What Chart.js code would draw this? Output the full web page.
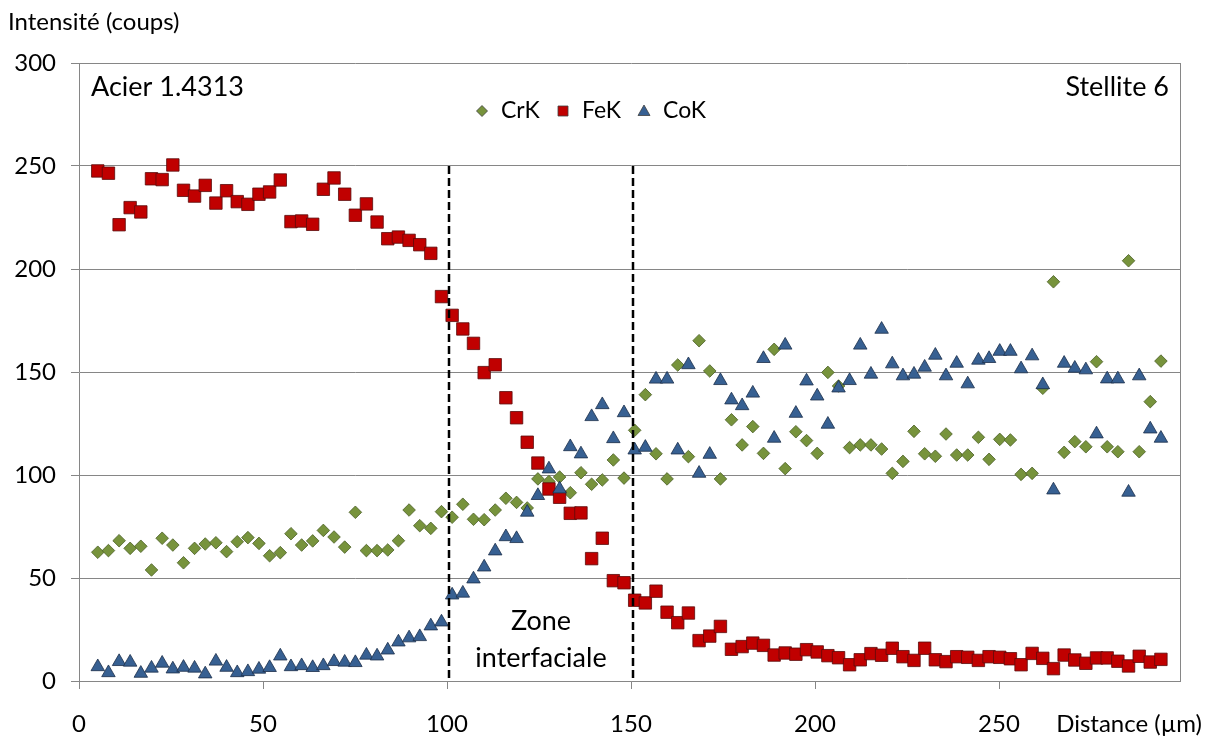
<!DOCTYPE html>
<html>
<head>
<meta charset="utf-8">
<script src="https://cdn.jsdelivr.net/npm/chart.js@4/dist/chart.umd.min.js"></script>
<style>
  html, body { margin: 0; padding: 0; background: #fff; }
  #profil { display: block; }
</style>
</head>
<body>
<canvas id="profil" width="1215" height="738"></canvas>
<script>
// distance (µm) of each measurement point
var distance = [
  5.1, 8.0, 10.9, 13.9, 16.8, 19.7, 22.6, 25.5, 28.4, 31.4,
  34.3, 37.2, 40.1, 43.0, 45.9, 48.9, 51.8, 54.7, 57.6, 60.5,
  63.5, 66.4, 69.3, 72.2, 75.1, 78.1, 81.0, 83.9, 86.8, 89.7,
  92.6, 95.6, 98.5, 101.4, 104.3, 107.2, 110.1, 113.1, 116.0, 118.9,
  121.8, 124.7, 127.7, 130.6, 133.5, 136.4, 139.3, 142.2, 145.2, 148.1,
  151.0, 153.9, 156.8, 159.8, 162.7, 165.6, 168.5, 171.4, 174.3, 177.3,
  180.2, 183.1, 186.0, 188.9, 191.9, 194.8, 197.7, 200.6, 203.5, 206.4,
  209.4, 212.3, 215.2, 218.1, 221.0, 223.9, 226.9, 229.8, 232.7, 235.6,
  238.5, 241.5, 244.4, 247.3, 250.2, 253.1, 256.0, 259.0, 261.9, 264.8,
  267.7, 270.6, 273.6, 276.5, 279.4, 282.3, 285.2, 288.1, 291.1, 294.0
];

var crK = [
  62.5, 63.3, 68.1, 64.4, 65.4, 53.9, 69.3, 66.0, 57.4, 64.4,
  66.5, 67.1, 62.8, 67.6, 69.6, 66.8, 60.8, 62.3, 71.5, 66.0,
  68.0, 73.1, 69.9, 65.0, 81.9, 63.3, 63.3, 63.6, 68.1, 83.0,
  75.4, 74.1, 82.2, 79.5, 85.8, 78.5, 78.3, 83.0, 88.7, 86.7,
  84.0, 98.1, 96.8, 99.0, 91.4, 101.1, 95.5, 97.6, 107.3, 98.5,
  121.7, 139.0, 110.3, 98.1, 153.4, 108.9, 165.2, 150.5, 98.1, 126.8,
  114.6, 123.5, 110.5, 161.0, 103.1, 121.0, 116.7, 110.5, 149.8, 143.2,
  113.3, 114.6, 114.6, 112.6, 100.8, 106.6, 121.2, 110.3, 109.1, 119.9,
  109.7, 109.7, 118.3, 107.6, 117.3, 117.0, 100.3, 100.8, 142.1, 193.8,
  111.0, 116.2, 113.7, 155.0, 113.7, 111.3, 204.0, 111.3, 135.6, 155.3
];

var feK = [
  247.6, 246.5, 221.5, 229.8, 227.7, 243.8, 243.4, 250.5, 238.2, 235.4,
  240.6, 232.0, 238.0, 232.7, 231.4, 236.3, 237.4, 243.2, 223.0, 223.3,
  221.7, 238.7, 244.2, 236.3, 226.1, 231.6, 222.8, 214.7, 215.5, 213.9,
  211.8, 207.6, 186.6, 177.5, 170.9, 163.9, 149.7, 153.5, 137.5, 127.8,
  115.9, 105.8, 93.2, 89.2, 81.4, 81.6, 59.4, 69.3, 48.7, 47.7,
  39.2, 37.9, 43.6, 33.4, 28.3, 33.0, 19.6, 21.8, 26.5, 15.4,
  16.7, 18.4, 17.3, 12.6, 13.6, 13.0, 15.2, 14.1, 12.3, 11.3,
  7.9, 10.3, 13.3, 12.5, 15.9, 11.8, 10.0, 15.9, 10.3, 9.4,
  11.8, 11.5, 10.0, 11.8, 11.5, 10.8, 7.9, 13.4, 11.0, 6.0,
  12.6, 10.2, 8.6, 11.2, 11.2, 9.6, 7.3, 12.0, 9.2, 10.5
];

var coK = [
  6.9, 4.0, 9.4, 9.1, 3.7, 6.2, 8.6, 5.8, 6.6, 6.2,
  3.4, 9.6, 6.6, 4.0, 4.5, 5.7, 6.5, 12.1, 6.9, 7.4,
  6.5, 7.4, 9.4, 9.1, 8.9, 12.5, 12.1, 15.0, 18.9, 20.9,
  21.5, 26.7, 28.6, 41.7, 42.6, 49.5, 55.3, 63.1, 70.0, 69.1,
  81.9, 90.0, 102.9, 93.2, 113.7, 110.2, 128.3, 134.1, 117.6, 130.2,
  112.1, 113.4, 146.5, 146.5, 112.1, 153.5, 100.8, 110.0, 145.8, 136.4,
  133.6, 139.7, 156.5, 117.8, 163.0, 129.9, 145.6, 138.3, 124.6, 142.2,
  145.8, 163.0, 148.9, 170.7, 153.9, 148.1, 148.9, 152.3, 158.1, 148.1,
  154.2, 144.2, 155.7, 156.5, 160.0, 160.0, 151.5, 157.8, 143.8, 92.7,
  154.2, 151.8, 151.0, 119.9, 146.6, 146.6, 91.6, 148.1, 122.3, 117.8
];

// interface zone limits (µm)
var zoneLimits = [100, 150];
var xTicks = [0, 50, 100, 150, 200, 250];

var FONT = "Lato, 'Open Sans', sans-serif";

function points(ys) {
  return ys.map(function(y, i) { return { x: distance[i], y: y }; });
}

// extra drawing: frame, dashed lines, labels, legend
var decor = {
  id: "decor",
  afterDatasetsDraw: function(chart) {
    var c = chart.ctx, a = chart.chartArea;
    var xs = chart.scales.x, ys = chart.scales.y;
    c.save();

    // right frame (gridlines stop here)
    var fx = a.right - 2.5;
    c.fillStyle = "#fff";
    c.fillRect(fx + 0.5, a.top - 1, a.right - fx + 1, a.bottom - a.top + 2);
    c.strokeStyle = "#868686";
    c.lineWidth = 1;
    c.beginPath();
    c.moveTo(fx, a.top);
    c.lineTo(fx, a.bottom);
    c.stroke();

    // dashed zone limits
    c.strokeStyle = "#000";
    c.lineWidth = 2.5;
    c.setLineDash([8, 4]);
    zoneLimits.forEach(function(v) {
      var px = Math.round(xs.getPixelForValue(v)) + 2;
      c.beginPath();
      c.moveTo(px, ys.getPixelForValue(250));
      c.lineTo(px, a.bottom);
      c.stroke();
    });
    c.setLineDash([]);

    c.fillStyle = "#000";
    c.textBaseline = "middle";

    // zone label
    c.font = "27px " + FONT;
    c.textAlign = "center";
    var mid = xs.getPixelForValue((zoneLimits[0] + zoneLimits[1]) / 2) + 2;
    c.fillText("Zone", mid, 621);
    c.fillText("interfaciale", mid, 658);

    // material labels
    c.textAlign = "left";
    c.fillText("Acier 1.4313", a.left + 12, 87);
    c.textAlign = "right";
    c.fillText("Stellite 6", a.right - 14, 87);

    // axis titles
    c.font = "24px " + FONT;
    c.textAlign = "left";
    c.fillText("Intensité (coups)", 8, 22);
    c.textAlign = "right";
    c.fillText("Distance (µm)", 1202, 724);

    // legend
    var ly = 111;
    var items = [
      { label: "CrK", shape: "diamond", fill: "#77933C", x: 482 },
      { label: "FeK", shape: "square", fill: "#C00000", x: 563 },
      { label: "CoK", shape: "triangle", fill: "#376092", x: 644 }
    ];
    c.font = "23px " + FONT;
    c.textAlign = "left";
    items.forEach(function(it) {
      c.beginPath();
      if (it.shape === "diamond") {
        c.moveTo(it.x, ly - 5.5); c.lineTo(it.x + 5.5, ly); c.lineTo(it.x, ly + 5.5); c.lineTo(it.x - 5.5, ly);
      } else if (it.shape === "square") {
        c.rect(it.x - 5, ly - 5, 10, 10);
      } else {
        c.moveTo(it.x, ly - 6); c.lineTo(it.x + 6, ly + 4.5); c.lineTo(it.x - 6, ly + 4.5);
      }
      c.closePath();
      c.fillStyle = it.fill;
      c.fill();
      c.strokeStyle = "#404040";
      c.lineWidth = 0.8;
      c.stroke();
      c.fillStyle = "#000";
      c.fillText(it.label, it.x + 19, ly);
    });

    c.restore();
  }
};

var ctx = document.getElementById("profil").getContext("2d");
var chart = new Chart(ctx, {
  type: "scatter",
  data: {
    datasets: [
      {
        label: "CrK",
        data: points(crK),
        pointStyle: "rectRot",
        pointRadius: 6.3,
        backgroundColor: "#77933C",
        borderColor: "#4a5e26",
        borderWidth: 0.8,
        order: 3
      },
      {
        label: "FeK",
        data: points(feK),
        pointStyle: "rect",
        pointRadius: 8.8,
        backgroundColor: "#C00000",
        borderColor: "#5a0a0a",
        borderWidth: 0.8,
        order: 2
      },
      {
        label: "CoK",
        data: points(coK),
        pointStyle: "triangle",
        pointRadius: 7.8,
        backgroundColor: "#376092",
        borderColor: "#1c2f4a",
        borderWidth: 0.8,
        order: 1
      }
    ]
  },
  options: {
    responsive: false,
    animation: false,
    devicePixelRatio: 1,
    layout: { padding: { left: 0, top: 63, right: 32, bottom: 0 } },
    plugins: {
      legend: { display: false },
      tooltip: { enabled: false }
    },
    scales: {
      x: {
        type: "linear",
        min: 0,
        max: 300,
        afterFit: function(s) { s.height = 57; },
        afterBuildTicks: function(s) { s.ticks = xTicks.map(function(v) { return { value: v }; }); },
        ticks: {
          color: "#000",
          font: { family: FONT, size: 24 },
          padding: 21,
          maxRotation: 0
        },
        grid: { drawOnChartArea: false, drawTicks: true, tickLength: 8, color: "#868686" },
        border: { display: true, color: "#868686", width: 1 }
      },
      y: {
        min: 0,
        max: 300,
        afterFit: function(s) { s.width = 79; },
        ticks: {
          stepSize: 50,
          color: "#000",
          font: { family: FONT, size: 24 },
          padding: 15
        },
        grid: { color: "#868686", lineWidth: 1, tickLength: 8 },
        border: { display: true, color: "#868686", width: 1 }
      }
    }
  },
  plugins: [decor]
});
</script>
</body>
</html>
